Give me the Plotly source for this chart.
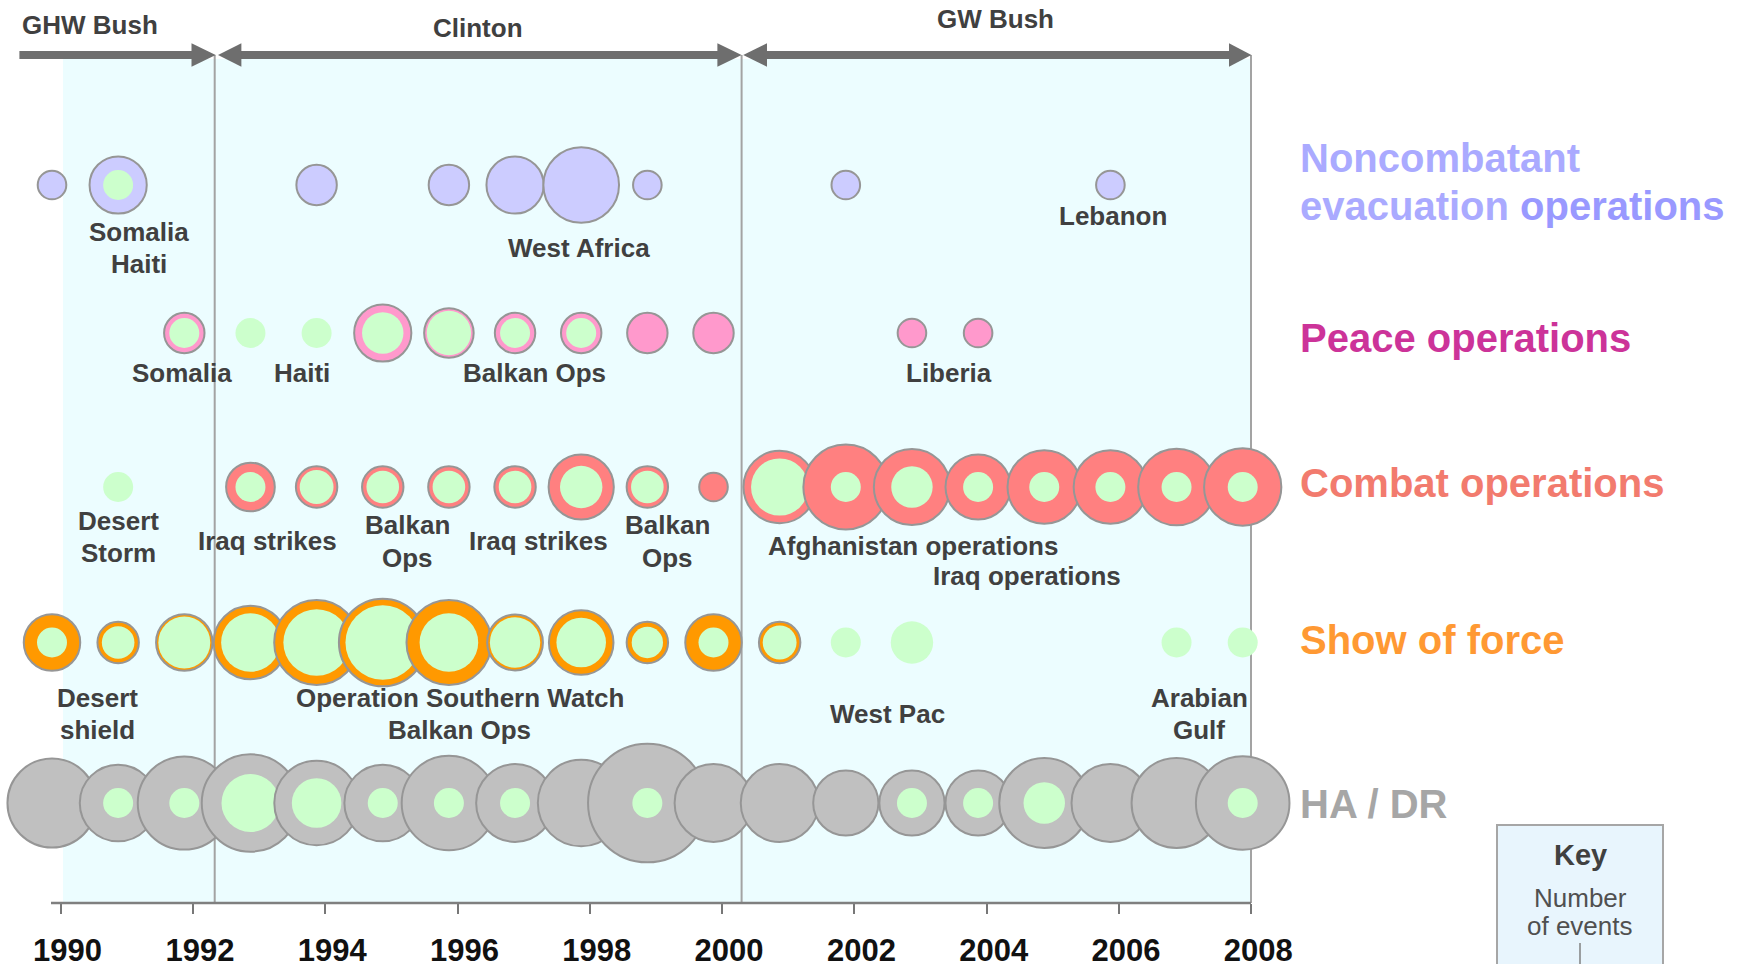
import plotly.graph_objects as go

# ---------------- data ----------------
years = list(range(1990, 2009))
tick_years = list(range(1990, 2009, 2))

# number of events per year: outer bubble = all events, inner green = subset
neo_total    = [1, 4, 0, 0, 2, 0, 2, 4, 7, 1, 0, 0, 1, 0, 0, 0, 1, 0, 0]
neo_green    = [0, 1.1, 0, 0, 0, 0, 0, 0, 0, 0, 0, 0, 0, 0, 0, 0, 0, 0, 0]

peace_total  = [0, 0, 2, 1, 1, 4, 3, 2, 2, 2, 2, 0, 0, 1, 1, 0, 0, 0, 0]
peace_green  = [0, 0, 1.1, 1.1, 1.1, 2.1, 2.4, 1.1, 1.1, 0, 0, 0, 0, 0, 0, 0, 0, 0, 0]

combat_total = [0, 1, 0, 2.9, 2.1, 2.1, 2.1, 2.1, 5.2, 2.1, 1, 6.4, 8.8, 7.1, 5.2, 6.6, 6.6, 7.2, 7.3]
combat_green = [0, 1.1, 0, 1.1, 1.4, 1.3, 1.3, 1.3, 2.2, 1.3, 0, 4, 1.1, 2.1, 1.1, 1.1, 1.1, 1.1, 1.1]

show_total   = [3.9, 2.1, 3.9, 6.6, 8.8, 9.4, 8.8, 3.8, 5.1, 2.1, 3.9, 2.1, 1.1, 2.2, 0, 0, 0, 1.1, 1.1]
show_green   = [1.1, 1.3, 3.3, 4.2, 5.4, 6.8, 4.2, 3.1, 3.0, 1.2, 1.1, 1.4, 1.1, 2.2, 0, 0, 0, 1.1, 1.1]

hadr_total   = [9.7, 7.2, 10.6, 11.6, 8.75, 7.2, 10.9, 7.4, 9.2, 17.2, 7.4, 7.4, 5.2, 5.2, 5.2, 9.9, 7.4, 9.9, 10.7]
hadr_green   = [0, 1.1, 1.1, 4.1, 3.0, 1.1, 1.1, 1.1, 0, 1.1, 0, 0, 0, 1.1, 1.1, 2.1, 0, 0, 1.1]

categories = ["Noncombatant evacuation operations", "Peace operations",
              "Combat operations", "Show of force", "HA / DR"]
presidents = ["GHW Bush", "Clinton", "GW Bush"]

# ---------------- layout helpers ----------------
W, H = 1746, 964
PX0, PX_PER_YEAR = 52.0, 66.15          # pixel column of the first year, pixels per year
def X(px):
    return 1990 + (px - PX0) / PX_PER_YEAR

R1 = 14.3                                # radius (px) of a one-event bubble
SIZEREF = 1.0 / (2 * R1 ** 2)
TICK_OFFSET = 8.6 / PX_PER_YEAR
AXIS_Y = 903
FONT = "Liberation Sans, Arial, sans-serif"
TXT = "#404040"
GREEN = "#ccffcc"
EDGE = "#969696"

rows = [
    dict(total=neo_total,    green=neo_green,    color="#ccccff", y=185),
    dict(total=peace_total,  green=peace_green,  color="#ff99cc", y=333),
    dict(total=combat_total, green=combat_green, color="#ff8080", y=487),
    dict(total=show_total,   green=show_green,   color="#ff9900", y=642.5),
    dict(total=hadr_total,   green=hadr_green,   color="#c0c0c0", y=803),
]

fig = go.Figure()
for row in rows:
    xs, sizes, cols, lws = [], [], [], []
    for yr, t, g in zip(years, row["total"], row["green"]):
        if t > 0 and t > g:
            xs.append(yr); sizes.append(t); cols.append(row["color"]); lws.append(2)
        if g > 0:
            xs.append(yr); sizes.append(g); cols.append(GREEN); lws.append(0)
    fig.add_trace(go.Scatter(
        x=xs, y=[row["y"]] * len(xs), mode="markers",
        marker=dict(size=sizes, sizemode="area", sizeref=SIZEREF, color=cols,
                    opacity=1, line=dict(color=EDGE, width=lws)),
        hoverinfo="skip", showlegend=False))

shapes = []
# light cyan band
shapes.append(dict(type="rect", xref="x", yref="y", x0=X(63), x1=X(1251), y0=59, y1=AXIS_Y,
                   fillcolor="#ecfdff", line=dict(width=0), layer="below"))
# administration boundaries
for px in (214.7, 741.6, 1251):
    shapes.append(dict(type="line", xref="x", yref="y", x0=X(px), x1=X(px), y0=55, y1=AXIS_Y,
                       line=dict(color="#a3a3a3", width=2), layer="below"))
# axis line
shapes.append(dict(type="line", xref="x", yref="y", x0=X(51), x1=X(1251), y0=AXIS_Y, y1=AXIS_Y,
                   line=dict(color="#7f7f7f", width=2.5)))

# arrows
ARROW = "#6e6e6e"
def shaft(a, b):
    shapes.append(dict(type="rect", xref="x", yref="y", x0=X(a), x1=X(b), y0=51, y1=59,
                       fillcolor=ARROW, line=dict(width=0)))
def head(base, tip):
    p = "M {:.5f},43.3 L {:.5f},66.7 L {:.5f},55 Z".format(X(base), X(base), X(tip))
    shapes.append(dict(type="path", xref="x", yref="y", path=p,
                       fillcolor=ARROW, line=dict(width=0)))
shaft(19.4, 193); head(191.5, 215.7)
shaft(240, 719); head(241.4, 218); head(717.4, 741.6)
shaft(765, 1231); head(767, 743.2); head(1229, 1251.4)

# key box
shapes.append(dict(type="rect", xref="x", yref="y", x0=X(1497), x1=X(1663), y0=825, y1=1010,
                   fillcolor="#e8f5fd", line=dict(color="#a6a6a6", width=2)))
shapes.append(dict(type="line", xref="x", yref="y", x0=X(1580), x1=X(1580), y0=943, y1=980,
                   line=dict(color="#808080", width=1.5)))

ann = []
def label(text, px, py, size=26, color=TXT, bold=True, xanchor="center"):
    t = "<b>%s</b>" % text if bold else text
    ann.append(dict(text=t, x=X(px), y=py, xref="x", yref="y", showarrow=False,
                    xanchor=xanchor, yanchor="middle",
                    font=dict(family=FONT, size=size, color=color)))

# president labels
label(presidents[0], 90, 25)
label(presidents[1], 477.5, 27.5)
label(presidents[2], 995, 19)

# bubble annotations
for text, px, py in [
    ("Somalia", 139, 232), ("Haiti", 139, 264), ("West Africa", 579, 247.5), ("Lebanon", 1113, 216),
    ("Somalia", 182, 373), ("Haiti", 301.5, 373), ("Balkan Ops", 534.7, 373), ("Liberia", 948.5, 373),
    ("Desert", 118.8, 520.5), ("Storm", 118.8, 553), ("Iraq strikes", 267, 541),
    ("Balkan", 407, 525), ("Ops", 407, 558), ("Iraq strikes", 538, 541),
    ("Balkan", 667.5, 525), ("Ops", 667.5, 558),
    ("Afghanistan operations", 913, 546), ("Iraq operations", 1026.8, 575.7),
    ("Desert", 97, 698), ("shield", 97, 730), ("Operation Southern Watch", 459.5, 698),
    ("Balkan Ops", 459.5, 730), ("West Pac", 887.6, 713.7), ("Arabian", 1199.4, 698), ("Gulf", 1199.4, 730),
]:
    label(text, px, py)

# category labels on the right
LX = 1298
label("Noncombatant", LX, 157.5, size=40, color="#aaaaff", xanchor="left")
label("evacuation <span style='color:#9999ff'>operations</span>", LX, 206, size=40,
      color="#aaaaff", xanchor="left")
label(categories[1], LX, 337.5, size=40, color="#cc3399", xanchor="left")
label(categories[2], LX, 482.5, size=40, color="#f27b6e", xanchor="left")
label(categories[3], LX, 640, size=40, color="#ff9933", xanchor="left")
label(categories[4], LX, 804, size=40, color="#a6a6a6", xanchor="left")

# key
label("Key", 1580, 854.7, size=29, color="#404040")
label("Number", 1580, 898, size=26, color="#505050", bold=False)
label("of events", 1580, 926, size=26, color="#505050", bold=False)

fig.update_layout(
    width=W, height=H, margin=dict(l=0, r=0, t=0, b=0),
    paper_bgcolor="white", plot_bgcolor="rgba(0,0,0,0)",
    shapes=shapes, annotations=ann, showlegend=False,
    xaxis=dict(range=[X(0), X(W)], anchor="free", position=1 - AXIS_Y / H,
               tickvals=[y + TICK_OFFSET for y in tick_years],
               ticktext=["<b>%d</b>" % y for y in tick_years],
               ticks="outside", ticklen=10, tickwidth=2, tickcolor="#777777",
               ticklabelshift=7, ticklabelstandoff=10,
               tickfont=dict(family=FONT, size=31, color="#111111"),
               showline=False, showgrid=False, zeroline=False, automargin=False, fixedrange=True),
    yaxis=dict(range=[H, 0], visible=False, showgrid=False, zeroline=False, fixedrange=True),
)

fig.write_html("out.html", config={"displayModeBar": False},
               post_script="document.body.style.margin='0';document.body.style.overflow='hidden';")
